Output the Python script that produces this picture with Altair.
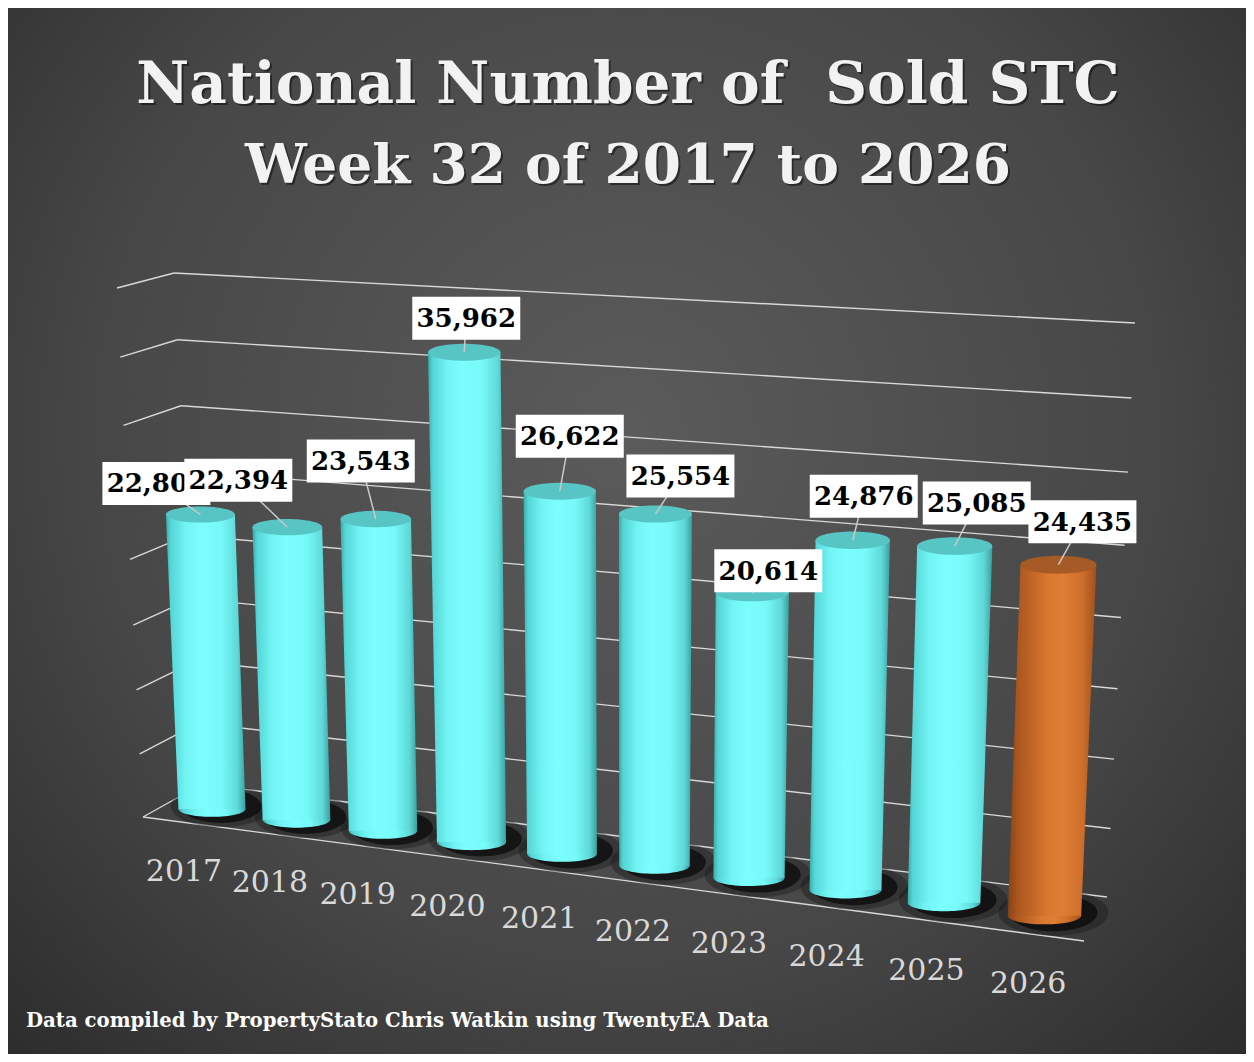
import altair as alt
import pandas as pd

# ---- data ----
YEARS = ["2017", "2018", "2019", "2020", "2021", "2022", "2023", "2024", "2025", "2026"]
SOLD_STC = [22805, 22394, 23543, 35962, 26622, 25554, 20614, 24876, 25085, 24435]
GRID_LEVELS = [0, 5000, 10000, 15000, 20000, 25000, 30000, 35000, 40000]
HIGHLIGHT_YEAR = "2026"

# the original title has a double space before "Sold" (kept with a no-break space)
TITLE_LINES = ["National Number of \u00a0Sold STC", "Week 32 of 2017 to 2026"]
FOOTNOTE = "Data compiled by PropertyStato Chris Watkin using TwentyEA Data"

# data-label boxes were dragged by hand in the original: offset from each cylinder top (px)
LABEL_DX = [-44, -49, -15, 2, 10, 25, 16, 11, 22, 24]
LABEL_DY = [-31, -47, -58, -34, -55, -38, -22, -44, -43, -43]

# ---- look ----
FONT = "DejaVu Serif"
CYAN_STOPS = [(0, "#3aa9a9"), (0.06, "#55d5d5"), (0.25, "#72f4f4"), (0.45, "#7cfefe"),
              (0.7, "#77f9f9"), (0.9, "#5ed7d7"), (1, "#3a9f9f")]
ORANGE_STOPS = [(0, "#874314"), (0.12, "#ad571f"), (0.45, "#d8772f"), (0.62, "#e07e34"),
                (0.85, "#cc6d2a"), (1, "#9f501b")]
CYAN_TOP = "#58c5c5"
ORANGE_TOP = "#a65a25"
ELLIPSE = "M-1,0A1,0.235,0,1,1,1,0A1,0.235,0,1,1,-1,0Z"
SHADOW = "M-1,0A1,0.42,0,1,1,1,0A1,0.42,0,1,1,-1,0Z"

W, H = 1238, 1046
# the scales run in picture pixels (page margin is 8px), y grows downwards
X = alt.Scale(domain=[8, 8 + W], nice=False, zero=False)
Y = alt.Scale(domain=[8 + H, 8], nice=False, zero=False)


def grad(stops):
    return alt.Gradient(
        gradient="linear", x1=0, x2=1, y1=0, y2=0,
        stops=[alt.GradientStop(offset=o, color=c) for o, c in stops],
    )


def xq(field):
    return alt.X(f"{field}:Q", scale=X, axis=None)


def yq(field):
    return alt.Y(f"{field}:Q", scale=Y, axis=None)


bars = pd.DataFrame({
    "year": YEARS,
    "value": SOLD_STC,
    "i": list(range(len(YEARS))),
    "dx": LABEL_DX,
    "dy": LABEL_DY,
})
grid = pd.DataFrame({"level": GRID_LEVELS})

# 3D-ish projection of Excel's perspective cylinders: the floor tilts down to the right,
# the height scale grows towards the viewer and upwards
base = alt.Chart(bars).transform_calculate(
    xb="212 + 83.5*datum.i + datum.i*datum.i",
    base="809 + 10.6*datum.i + 0.14*datum.i*datum.i",
    h="(0.01252 + 0.000153*datum.i) * (datum.value + 1.38e-6*datum.value*datum.value)",
).transform_calculate(
    top="datum.base - datum.h",
    xt="datum.xb + (datum.xb - 627)*0.000095*datum.h",
    wb="67 + 0.7*datum.i",
).transform_calculate(
    wt="datum.wb*(1 + 0.0001*datum.h)",
    sb="datum.wb*datum.wb",
    shadow_x="datum.xb + 9",
    shadow_y="datum.base - 3",
    shadow_big="pow(datum.wb*1.5, 2)",
    shadow_small="pow(datum.wb*1.2, 2)",
    lx="datum.xt + datum.dx",
    ly="datum.top + datum.dy",
    year_x="datum.xb - 28 + 1.3*datum.i",
    year_y="datum.base + 63 + 0.6*datum.i",
).transform_calculate(
    st="datum.wt*datum.wt",
    box_l="datum.lx - 54",
    box_r="datum.lx + 54",
    box_t="datum.ly - 21.5",
    box_b="datum.ly + 21.5",
)

is_hl = alt.datum.year == HIGHLIGHT_YEAR
not_hl = alt.datum.year != HIGHLIGHT_YEAR
one_row = pd.DataFrame({"a": [0]})

# background
background = alt.Chart(one_row).mark_rect(
    color=alt.Gradient(
        gradient="radial", x1=0.5, y1=0.42, r1=0, x2=0.5, y2=0.42, r2=0.78,
        stops=[alt.GradientStop(offset=0, color="#5b5b5b"),
               alt.GradientStop(offset=0.55, color="#474747"),
               alt.GradientStop(offset=1, color="#262626")],
    )
).encode(x=alt.value(0), x2=alt.value(W), y=alt.value(0), y2=alt.value(H))

# gridlines: back wall and left side wall
gbase = alt.Chart(grid).transform_calculate(
    lp="datum.level + 1.38e-6*datum.level*datum.level",
).transform_calculate(
    ex="143 - 26*datum.level/40000",
    ey="817 - 0.012533*datum.lp",
    cx="202 - 28*datum.level/40000",
    cy="784 - 0.012107*datum.lp",
    rx="1107 + 28*datum.level/40000",
    ry="897 - 0.0136*datum.lp",
)
back_wall = gbase.mark_rule(color="#d8d8d8", strokeWidth=1.4).encode(
    x=xq("cx"), y=yq("cy"), x2="rx:Q", y2="ry:Q"
)
side_wall = gbase.mark_rule(color="#d8d8d8", strokeWidth=1.4).encode(
    x=xq("ex"), y=yq("ey"), x2="cx:Q", y2="cy:Q"
)
floor_edge = alt.Chart(one_row).mark_rule(color="#d8d8d8", strokeWidth=1.4).encode(
    x=alt.value(135), y=alt.value(809), x2=alt.value(1076), y2=alt.value(933)
)

# shadows on the floor
shadow_big = base.mark_point(shape=SHADOW, filled=True, color="#111111", opacity=0.35,
                             strokeWidth=0).encode(
    x=xq("shadow_x"), y=yq("shadow_y"), size=alt.Size("shadow_big:Q", scale=None)
)
shadow_small = base.mark_point(shape=SHADOW, filled=True, color="#000000", opacity=0.6,
                               strokeWidth=0).encode(
    x=xq("shadow_x"), y=yq("shadow_y"), size=alt.Size("shadow_small:Q", scale=None)
)


def cylinder(filt, stops, top_color):
    bottom = base.transform_filter(filt).mark_point(
        shape=ELLIPSE, filled=True, color=grad(stops), opacity=1, strokeWidth=0
    ).encode(x=xq("xb"), y=yq("base"), size=alt.Size("sb:Q", scale=None))
    body = base.transform_filter(filt).transform_fold(
        ["base", "top"], as_=["end", "ypos"]
    ).transform_calculate(
        xc="datum.end == 'top' ? datum.xt : datum.xb",
        ww="datum.end == 'top' ? datum.wt : datum.wb",
    ).transform_calculate(
        xl="datum.xc - datum.ww/2",
        xr="datum.xc + datum.ww/2",
    ).mark_area(orient="horizontal", color=grad(stops), opacity=1).encode(
        y=yq("ypos"), x=xq("xl"), x2="xr:Q", detail="year:N"
    )
    cap = base.transform_filter(filt).mark_point(
        shape=ELLIPSE, filled=True, color=top_color, opacity=1, strokeWidth=0
    ).encode(x=xq("xt"), y=yq("top"), size=alt.Size("st:Q", scale=None))
    return [bottom, body, cap]


leaders = base.mark_rule(color="#c9c9c9", strokeWidth=1.5).encode(
    x=xq("xt"), y=yq("top"), x2="lx:Q", y2="ly:Q"
)


def label_layers(filt):
    box = base.transform_filter(filt).mark_rect(color="white").encode(
        x=xq("box_l"), x2="box_r:Q", y=yq("box_t"), y2="box_b:Q"
    )
    txt = base.transform_filter(filt).mark_text(
        font=FONT, fontSize=26, fontWeight="bold", color="black", baseline="middle", dy=1
    ).encode(x=xq("lx"), y=yq("ly"), text=alt.Text("value:Q", format=","))
    return [box, txt]


year_labels = base.mark_text(
    font=FONT, fontSize=30, color="#d9d9d9", baseline="middle"
).encode(x=xq("year_x"), y=yq("year_y"), text="year:N")


def title_line(text, baseline_y, size):
    df = pd.DataFrame({"t": [text]})
    shade = alt.Chart(df).mark_text(
        font=FONT, fontSize=size, fontWeight="bold", color="black", opacity=0.45,
        baseline="alphabetic", align="center", dx=2, dy=2
    ).encode(x=alt.value(620), y=alt.value(baseline_y), text="t:N")
    front = alt.Chart(df).mark_text(
        font=FONT, fontSize=size, fontWeight="bold", color="#f2f2f2",
        baseline="alphabetic", align="center"
    ).encode(x=alt.value(620), y=alt.value(baseline_y), text="t:N")
    return [shade, front]


footer = alt.Chart(pd.DataFrame({"t": [FOOTNOTE]})).mark_text(
    font=FONT, fontSize=19.7, fontWeight="bold", color="white", align="left",
    baseline="alphabetic"
).encode(x=alt.value(18), y=alt.value(1019), text="t:N")

layers = [background, back_wall, side_wall, floor_edge, shadow_big, shadow_small]
layers += cylinder(not_hl, CYAN_STOPS, CYAN_TOP)
layers += cylinder(is_hl, ORANGE_STOPS, ORANGE_TOP)
layers += [leaders]
layers += label_layers(alt.datum.i == 0)
layers += label_layers(alt.datum.i > 0)
layers += [year_labels]
layers += title_line(TITLE_LINES[0], 95, 58)
layers += title_line(TITLE_LINES[1], 175, 55)
layers += [footer]

chart = alt.layer(*layers).properties(
    width=W, height=H, autosize=alt.AutoSizeParams(type="none"), padding=0,
    background="#3c3c3c",
).configure_view(strokeWidth=0)

chart.save("out.html", embed_options={"renderer": "svg", "actions": False})
